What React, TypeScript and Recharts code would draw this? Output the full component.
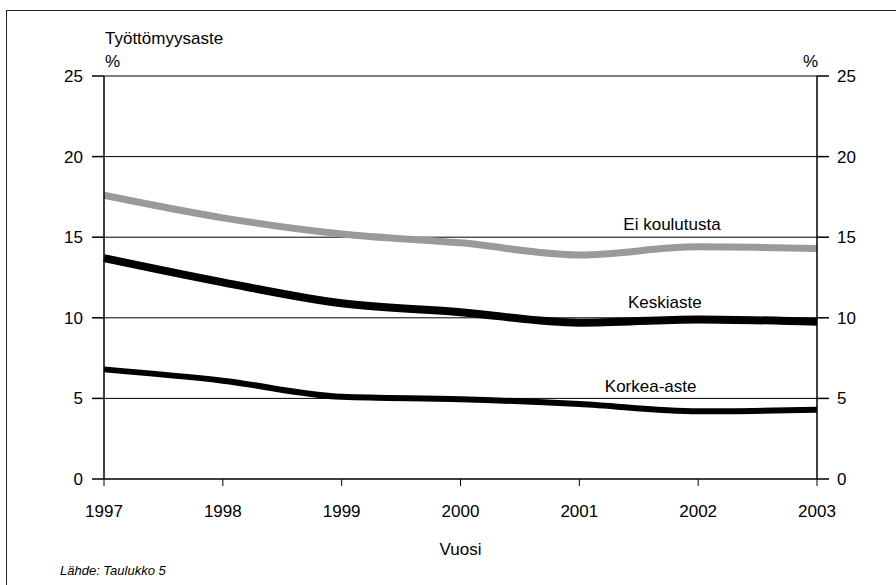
import {
  CartesianGrid,
  Label,
  Line,
  LineChart,
  ReferenceDot,
  XAxis,
  YAxis,
} from "recharts";

const YEARS = [1997, 1998, 1999, 2000, 2001, 2002, 2003];
const EI_KOULUTUSTA = [17.6, 16.2, 15.2, 14.65, 13.9, 14.4, 14.3];
const KESKIASTE = [13.7, 12.2, 10.9, 10.35, 9.7, 9.9, 9.75];
const KORKEA_ASTE = [6.8, 6.1, 5.1, 4.95, 4.65, 4.2, 4.3];
const Y_TICKS = [0, 5, 10, 15, 20, 25];

const data = YEARS.map((year, i) => ({
  year,
  ei: EI_KOULUTUSTA[i],
  keski: KESKIASTE[i],
  korkea: KORKEA_ASTE[i],
}));

const FONT = "'Liberation Sans', Arial, sans-serif";
const tickStyle = { fontSize: 17, fill: "#000", fontFamily: FONT };

export default function App() {
  return (
    <div
      style={{
        position: "absolute",
        left: 0,
        top: 0,
        width: 896,
        height: 585,
        background: "#fff",
        fontFamily: FONT,
        overflow: "hidden",
      }}
    >
      <div
        style={{
          position: "absolute",
          left: 6,
          top: 10,
          width: 900,
          height: 600,
          borderTop: "1.5px solid #222",
          borderLeft: "1.5px solid #222",
        }}
      />
      <div style={{ position: "absolute", left: 105, top: 29, fontSize: 17 }}>
        Työttömyysaste
      </div>
      <div style={{ position: "absolute", left: 105, top: 52, fontSize: 17 }}>%</div>
      <div style={{ position: "absolute", left: 803, top: 52, fontSize: 17 }}>%</div>
      <div
        style={{
          position: "absolute",
          left: 60,
          top: 563,
          fontSize: 13,
          fontStyle: "italic",
        }}
      >
        Lähde: Taulukko 5
      </div>
      <LineChart
        width={896}
        height={585}
        data={data}
        margin={{ top: 76, right: 0, bottom: 0, left: 0 }}
        style={{ position: "absolute", left: 0, top: 0 }}
      >
        <CartesianGrid
          yAxisId="left"
          horizontal
          vertical={false}
          stroke="#000"
          strokeWidth={1}
        />
        <XAxis
          dataKey="year"
          type="number"
          domain={[1997, 2003]}
          ticks={YEARS}
          height={106}
          stroke="#000"
          tickSize={7}
          tick={tickStyle}
          tickMargin={19}
        >
          <Label
            value="Vuosi"
            position="insideTop"
            offset={64}
            style={{ fontSize: 17, fill: "#000", fontFamily: FONT }}
          />
        </XAxis>
        <YAxis
          yAxisId="left"
          type="number"
          domain={[0, 25]}
          ticks={Y_TICKS}
          width={104}
          stroke="#000"
          strokeWidth={1.5}
          tickSize={12}
          tickMargin={9}
          tick={tickStyle}
        />
        <YAxis
          yAxisId="right"
          type="number"
          orientation="right"
          domain={[0, 25]}
          ticks={Y_TICKS}
          width={79}
          stroke="#000"
          strokeWidth={1.5}
          tickSize={12}
          tickMargin={8}
          tick={tickStyle}
        />
        <Line
          yAxisId="right"
          dataKey="ei"
          stroke="none"
          dot={false}
          legendType="none"
          isAnimationActive={false}
        />
        <Line
          yAxisId="left"
          type="monotone"
          dataKey="ei"
          stroke="#9a9a9a"
          strokeWidth={7}
          dot={false}
          isAnimationActive={false}
        />
        <Line
          yAxisId="left"
          type="monotone"
          dataKey="keski"
          stroke="#000"
          strokeWidth={8}
          dot={false}
          isAnimationActive={false}
        />
        <Line
          yAxisId="left"
          type="monotone"
          dataKey="korkea"
          stroke="#000"
          strokeWidth={6}
          dot={false}
          isAnimationActive={false}
        />
        <ReferenceDot yAxisId="left" x={2001.78} y={15.8} r={0} stroke="none">
          <Label value="Ei koulutusta" position="center" style={tickStyle} />
        </ReferenceDot>
        <ReferenceDot yAxisId="left" x={2001.72} y={11.0} r={0} stroke="none">
          <Label value="Keskiaste" position="center" style={tickStyle} />
        </ReferenceDot>
        <ReferenceDot yAxisId="left" x={2001.6} y={5.8} r={0} stroke="none">
          <Label value="Korkea-aste" position="center" style={tickStyle} />
        </ReferenceDot>
      </LineChart>
    </div>
  );
}
